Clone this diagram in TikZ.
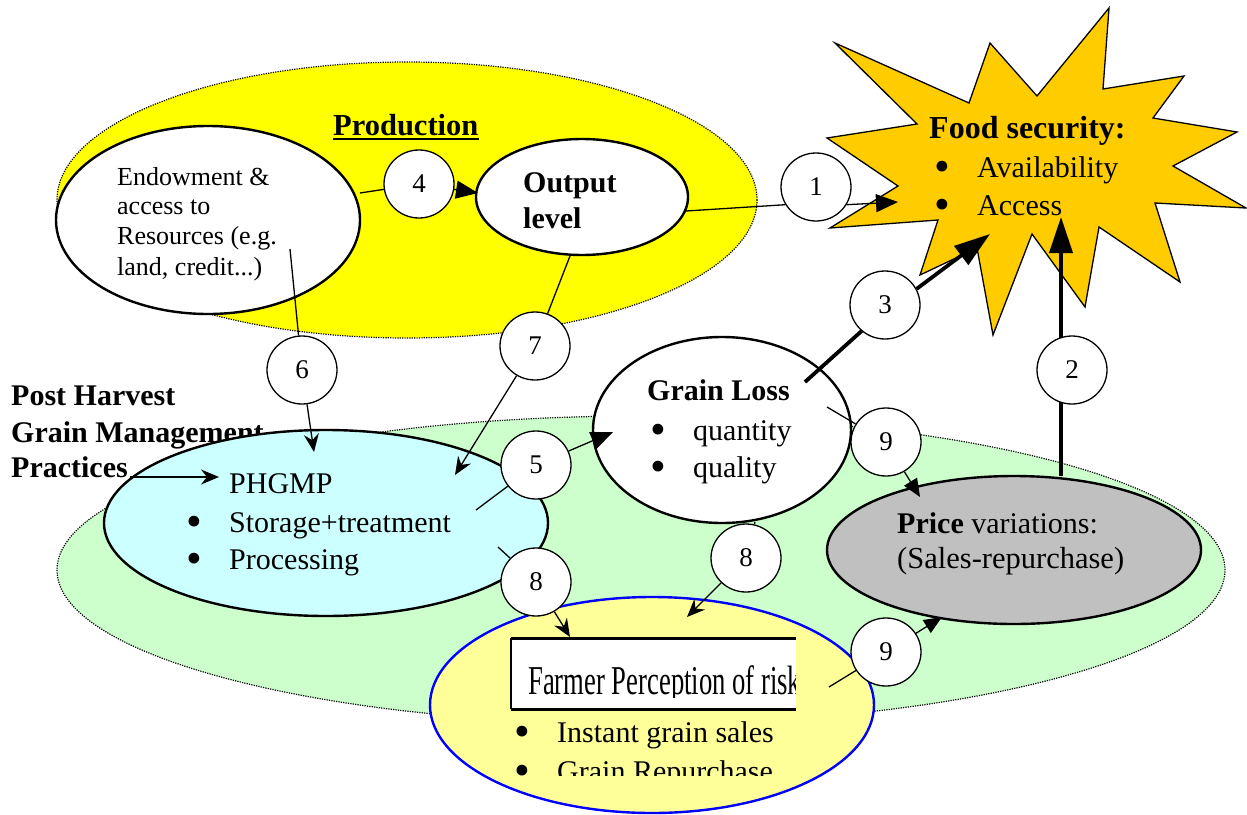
\documentclass[tikz,border=0pt]{standalone}
\usepackage{fontspec}
\setmainfont{Liberation Serif}
\usetikzlibrary{arrows.meta,shapes.geometric}
\pgfdeclarelayer{front}
\pgfsetlayers{main,front}
\definecolor{prodyel}{HTML}{FFFF00}
\definecolor{phgreen}{HTML}{CCFFCC}
\definecolor{staror}{HTML}{FFCC00}
\definecolor{phcyan}{HTML}{CCFFFF}
\definecolor{pricegray}{HTML}{C0C0C0}
\definecolor{farmyel}{HTML}{FFFF99}
\newcommand\fsz[1]{\fontsize{#1}{#1}\selectfont}
\newcommand\bitem{\makebox[43pt][l]{\raisebox{-4pt}{\scalebox{1.5}{\textbullet}}}}
\tikzset{
  region/.style={ellipse, draw, line width=1.2pt, dash pattern=on 1.2pt off 1.2pt, inner sep=0},
  bigell/.style={ellipse, draw, line width=2.4pt, inner sep=0},
  num/.style={ellipse, draw, fill=white, line width=1.3pt, minimum width=70pt, minimum height=68pt, inner sep=0, font=\fsz{27}},
  txt/.style={anchor=base west, inner sep=0, font=\fsz{30}},
  btxt/.style={anchor=base west, inner sep=0, font=\fsz{30}\bfseries},
  stxt/.style={anchor=base west, inner sep=0, font=\fsz{26}},
  link/.style={line width=1.3pt},
  tri/.style={link, -{Triangle[length=22pt,width=18pt]}},
  stl/.style={link, -{Stealth[length=18pt,width=15pt,inset=6pt]}},
  tri9/.style={link, -{Triangle[length=18pt,width=15pt]}},
  heavyline/.style={line width=3.8pt},
  heavy/.style={heavyline, -{Triangle[length=36pt,width=23pt]}},
}
\begin{document}
\begin{tikzpicture}[x=1pt,y=-1pt]
\useasboundingbox (0,0) rectangle (1247,814);

% regions
\node[region, fill=prodyel, minimum width=700pt, minimum height=276pt] (prodreg) at (407,200) {};
\node[region, fill=phgreen, minimum width=1168pt, minimum height=308pt] (phreg) at (641,570) {};

% Post harvest label
\node[btxt] (ph1) at (11,405) {Post Harvest};
\node[btxt] (ph2) at (11,442) {Grain Management};
\node[btxt] (ph3) at (11,477) {Practices};

% star
\draw[fill=staror, line width=1.3pt] (835,43) -- (969,103) -- (990,43) -- (1037,96) -- (1109,8) -- (1103,89) -- (1184,76) -- (1153,118) -- (1237,132) -- (1173,166) -- (1246,208) -- (1155,203) -- (1180,282) -- (1099,227) -- (1085,307) -- (1032,234) -- (993,335) -- (977,248) -- (920,275) -- (938,220) -- (830,228) -- (898,186) -- (827,138) -- (917,124) -- cycle;
\node[btxt, font=\fsz{32}\bfseries] (fs0) at (929,138) {Food security:};
\node[txt] (fs1) at (934,177) {\bitem Availability};
\node[txt] (fs2) at (934,215) {\bitem Access};

% endowment
\node[bigell, fill=white, minimum width=304pt, minimum height=188pt] (endow) at (208,220) {};
\node[stxt] (en1) at (117,185) {Endowment \&};
\node[stxt] (en2) at (117,214) {access to};
\node[stxt] (en3) at (117,244) {Resources (e.g.};
\node[stxt] (en4) at (117,275) {land, credit...)};

% output
\node[bigell, fill=white, minimum width=212pt, minimum height=116pt] (outp) at (582,197) {};
\node[btxt] (ot1) at (523,192) {Output};
\node[btxt] (ot2) at (523,228) {level};

% production title
\node[btxt, font=\fsz{30.5}\bfseries] (prodt) at (333,135) {Production};
\draw[line width=2.5pt] ([yshift=-4pt]prodt.base west) -- ([yshift=-4pt]prodt.base east);

% grain loss
\node[bigell, fill=white, minimum width=258pt, minimum height=186pt] (gloss) at (722,430) {};
\node[btxt] (gl0) at (647,400) {Grain Loss};
\node[txt] (gl1) at (650,440) {\bitem quantity};
\node[txt] (gl2) at (650,477) {\bitem quality};

% PHGMP
\node[bigell, fill=phcyan, minimum width=444pt, minimum height=186pt] (phgmp) at (326,523) {};
\node[txt] (pm0) at (229,493) {PHGMP};
\node[txt] (pm1) at (186,532) {\bitem Storage+treatment};
\node[txt] (pm2) at (186,569) {\bitem Processing};

% price
\node[bigell, fill=pricegray, minimum width=374pt, minimum height=148pt] (price) at (1014,550) {};
\node[txt] (pr1) at (897,533) {\textbf{Price} variations:};
\node[txt, font=\fsz{30.5}] (pr2) at (897,568) {(Sales-repurchase)};

% farmer
\node[bigell, draw=blue, fill=farmyel, minimum width=444pt, minimum height=216pt] (farmer) at (652,705) {};
\fill[white] (511,638) rectangle (796,709);
\begin{scope}
  \clip (511,640) rectangle (795,697);
  \node[anchor=base west, inner sep=0, font=\fsz{41}] (risk) at (528,694) {\scalebox{0.65}[1]{Farmer Perception of risk}};
\end{scope}
\draw[line width=3pt] (511,638) -- (796,638);
\draw[line width=3pt] (511,709) -- (796,709);
\draw[line width=2pt] (511,638) -- (511,709);
\node[txt] (fr1) at (514,742) {\bitem Instant grain sales};
\begin{scope}
  \clip (500,712) rectangle (800,775);
  \node[txt] (fr2) at (514,781) {\bitem Grain Repurchase};
\end{scope}

% numbered circles
\begin{pgfonlayer}{front}
\node[num] (c1) at (816,187) {1};
\node[num] (c2) at (1072,370) {2};
\node[num] (c3) at (885,305) {3};
\node[num] (c4) at (419,184) {4};
\node[num] (c5) at (536,465) {5};
\node[num] (c6) at (302,370) {6};
\node[num] (c7) at (535,346) {7};
\node[num] (c8l) at (536,582) {8};
\node[num] (c8r) at (746,558) {8};
\node[num] (c9t) at (886,442) {9};
\node[num] (c9b) at (886,652) {9};
\end{pgfonlayer}

% connector end points
\coordinate (e4) at (360,193);
\coordinate (o4) at (478,193);
\coordinate (o1) at (686,211);
\coordinate (s1) at (898,202);
\coordinate (g3) at (805,382);
\coordinate (s3) at (990,234);
\coordinate (p2) at (1061,476);
\coordinate (s2) at (1061,217);
\coordinate (h5) at (476,510);
\coordinate (g5) at (613,432);
\coordinate (e6) at (290,249);
\coordinate (p6) at (314,452);
\coordinate (o7) at (570,256);
\coordinate (p7) at (455,475);
\coordinate (h8) at (498,547);
\coordinate (f8) at (570,637);
\coordinate (g8) at (755,522);
\coordinate (f8r) at (687,617);
\coordinate (g9) at (827,407);
\coordinate (p9) at (920,497);
\coordinate (f9) at (829,687);
\coordinate (p9b) at (942,617);
\coordinate (prs) at (130,477);
\coordinate (pre) at (219,477);

% connectors
\draw[link] (e4) -- (c4);
\draw[tri] (c4) -- (o4);
\draw[link] (o1) -- (c1.210);
\draw[tri] (c1.-30) -- (s1);
\draw[heavyline] (g3) -- (c3.228);
\draw[heavy] (c3.27) -- (s3);
\draw[heavy] (p2) -- (s2);
\draw[link] (h5) -- (c5);
\draw[tri] (c5) -- (g5);
\draw[link] (e6) -- (c6);
\draw[stl] (c6) -- (p6);
\draw[link] (o7) -- (c7);
\draw[stl] (c7) -- (p7);
\draw[link] (h8) -- (c8l);
\draw[stl] (c8l) -- (f8);
\draw[link] (g8) -- (c8r);
\draw[stl] (c8r) -- (f8r);
\draw[link] (g9) -- (c9t);
\draw[tri9] (c9t) -- (p9);
\draw[link] (f9) -- (c9b);
\draw[tri9] (c9b) -- (p9b);
\draw[stl] (prs) -- (pre);
\end{tikzpicture}
\end{document}
